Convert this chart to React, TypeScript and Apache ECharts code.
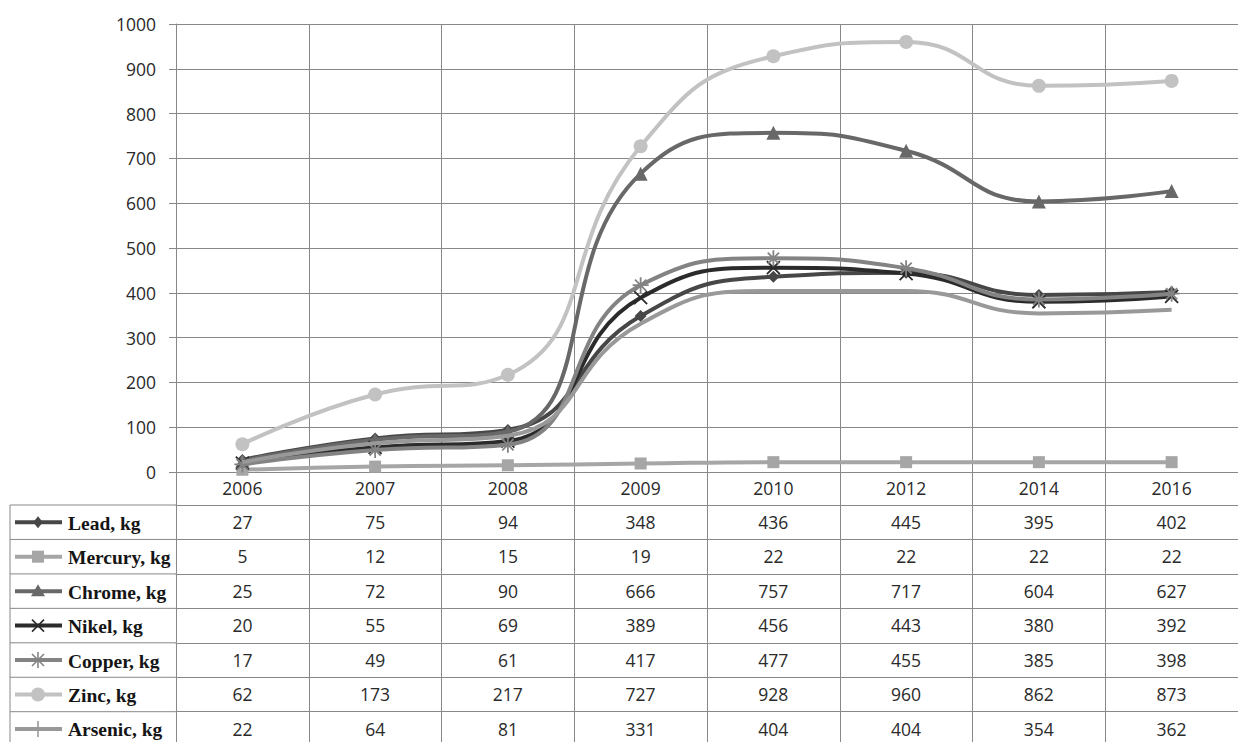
import React, { useEffect, useRef } from "react";
import * as echarts from "echarts";

const years = ["2006", "2007", "2008", "2009", "2010", "2012", "2014", "2016"];
const yTicks = { min: 0, max: 1000, interval: 100 };

const lead = [27, 75, 94, 348, 436, 445, 395, 402];
const mercury = [5, 12, 15, 19, 22, 22, 22, 22];
const chrome = [25, 72, 90, 666, 757, 717, 604, 627];
const nikel = [20, 55, 69, 389, 456, 443, 380, 392];
const copper = [17, 49, 61, 417, 477, 455, 385, 398];
const zinc = [62, 173, 217, 727, 928, 960, 862, 873];
const arsenic = [22, 64, 81, 331, 404, 404, 354, 362];

const seriesNames = ["Lead, kg", "Mercury, kg", "Chrome, kg", "Nikel, kg", "Copper, kg", "Zinc, kg", "Arsenic, kg"];
const seriesData = [lead, mercury, chrome, nikel, copper, zinc, arsenic];
const seriesColors = ["#474747", "#a6a6a6", "#686868", "#2b2b2b", "#838383", "#c2c2c2", "#999999"];
const seriesSymbols = [
  "diamond",
  "rect",
  "triangle",
  "path://M0,0L10,10M10,0L0,10",
  "path://M5,0L5,10M0,5L10,5M1.5,1.5L8.5,8.5M8.5,1.5L1.5,8.5",
  "circle",
  "path://M5,0L5,10",
];
const symbolKinds = ["diamond", "rect", "triangle", "x", "star", "circle", "plus"];
const symbolSizes = [12, 12, 14, 13, 16, 14, 16];
const strokeSymbols = [false, false, false, true, true, false, true];

const GRID_LEFT = 176;
const GRID_TOP = 24;
const GRID_BOTTOM_Y = 472;
const H = 742;
const HEADER_H = 33;
const ROW_H = 34.45;
const GRID_COLOR = "#888888";
const TEXT_COLOR = "#2a2a2a";
const NUM_FONT = "'Open Sans', 'Liberation Sans', sans-serif";
const NUM_SIZE = 17.5;

function legendIcon(kind: string, cx: number, cy: number, color: string): any[] {
  const els: any[] = [
    { type: "line", shape: { x1: 15, y1: cy, x2: 62, y2: cy }, style: { stroke: color, lineWidth: 4 } },
  ];
  const s = 6;
  const stroke = { stroke: color, lineWidth: 1.6 };
  if (kind === "diamond") {
    els.push({ type: "polygon", shape: { points: [[cx, cy - s], [cx + s * 0.8, cy], [cx, cy + s], [cx - s * 0.8, cy]] }, style: { fill: color } });
  } else if (kind === "rect") {
    els.push({ type: "rect", shape: { x: cx - 6, y: cy - 6, width: 12, height: 12 }, style: { fill: color } });
  } else if (kind === "triangle") {
    els.push({ type: "polygon", shape: { points: [[cx, cy - 7], [cx + 7, cy + 5], [cx - 7, cy + 5]] }, style: { fill: color } });
  } else if (kind === "x") {
    els.push({ type: "line", shape: { x1: cx - 6, y1: cy - 6, x2: cx + 6, y2: cy + 6 }, style: stroke });
    els.push({ type: "line", shape: { x1: cx + 6, y1: cy - 6, x2: cx - 6, y2: cy + 6 }, style: stroke });
  } else if (kind === "star") {
    els.push({ type: "line", shape: { x1: cx - 6, y1: cy - 6, x2: cx + 6, y2: cy + 6 }, style: stroke });
    els.push({ type: "line", shape: { x1: cx + 6, y1: cy - 6, x2: cx - 6, y2: cy + 6 }, style: stroke });
    els.push({ type: "line", shape: { x1: cx, y1: cy - 8, x2: cx, y2: cy + 8 }, style: stroke });
  } else if (kind === "circle") {
    els.push({ type: "circle", shape: { cx, cy, r: 7 }, style: { fill: color } });
  } else if (kind === "plus") {
    els.push({ type: "line", shape: { x1: cx, y1: cy - 8, x2: cx, y2: cy + 8 }, style: stroke });
  }
  return els;
}

export default function App() {
  const ref = useRef<HTMLDivElement>(null);
  useEffect(() => {
    if (!ref.current) return;
    const chart = echarts.init(ref.current, undefined, { renderer: "svg" });

    const labelStyle = { color: TEXT_COLOR, fontSize: NUM_SIZE, fontFamily: NUM_FONT, margin: 7 };
    const xAxes: any[] = [
      {
        type: "category",
        data: years,
        gridIndex: 0,
        position: "bottom",
        boundaryGap: true,
        axisLine: { show: true, lineStyle: { color: GRID_COLOR, width: 1 } },
        axisTick: { show: true, length: HEADER_H, lineStyle: { color: GRID_COLOR } },
        axisLabel: labelStyle,
        splitLine: { show: true, lineStyle: { color: GRID_COLOR, width: 1 } },
      },
    ];
    seriesData.forEach((d, i) => {
      xAxes.push({
        type: "category",
        data: d.map(String),
        gridIndex: 0,
        position: "bottom",
        offset: HEADER_H + i * ROW_H,
        boundaryGap: true,
        axisLine: { show: true, lineStyle: { color: GRID_COLOR, width: 1 } },
        axisTick: { show: true, length: ROW_H, lineStyle: { color: GRID_COLOR } },
        axisLabel: { ...labelStyle, margin: 8 },
        splitLine: { show: false },
      });
    });

    const graphics: any[] = [];
    for (let k = 0; k <= seriesData.length; k++) {
      const y = GRID_BOTTOM_Y + HEADER_H + k * ROW_H;
      graphics.push({
        type: "line",
        shape: { x1: 10, y1: y, x2: GRID_LEFT, y2: y },
        style: { stroke: GRID_COLOR, lineWidth: 1 },
      });
    }
    graphics.push({
      type: "line",
      shape: { x1: 10, y1: GRID_BOTTOM_Y + HEADER_H, x2: 10, y2: H },
      style: { stroke: GRID_COLOR, lineWidth: 1 },
    });
    seriesNames.forEach((name, i) => {
      const cy = GRID_BOTTOM_Y + HEADER_H + (i + 0.5) * ROW_H;
      graphics.push(...legendIcon(symbolKinds[i], 38, cy, seriesColors[i]));
      graphics.push({
        type: "text",
        x: 68,
        y: cy + 1,
        style: {
          text: name,
          fill: "#151515",
          font: "bold 19.5px 'Liberation Serif', 'DejaVu Serif', serif",
          verticalAlign: "middle",
          align: "left",
        },
      });
    });

    chart.setOption({
      animation: false,
      backgroundColor: "#ffffff",
      grid: { left: GRID_LEFT, top: GRID_TOP, right: -7, bottom: H - GRID_BOTTOM_Y, containLabel: false },
      xAxis: xAxes,
      yAxis: {
        type: "value",
        min: yTicks.min,
        max: yTicks.max,
        interval: yTicks.interval,
        axisLine: { show: true, lineStyle: { color: GRID_COLOR } },
        axisTick: { show: true, length: 7, lineStyle: { color: GRID_COLOR } },
        axisLabel: {
          color: TEXT_COLOR,
          fontSize: NUM_SIZE,
          fontFamily: NUM_FONT,
          margin: 20,
          formatter: (v: number) => String(v),
        },
        splitLine: { show: true, lineStyle: { color: GRID_COLOR, width: 1 } },
      },
      graphic: graphics,
      series: seriesData.map((d, i) => ({
        name: seriesNames[i],
        type: "line",
        xAxisIndex: 0,
        yAxisIndex: 0,
        data: d,
        smooth: 0.5,
        symbol: seriesSymbols[i],
        symbolSize: symbolSizes[i],
        showAllSymbol: true,
        lineStyle: { color: seriesColors[i], width: 4 },
        itemStyle: strokeSymbols[i]
          ? { color: seriesColors[i], borderColor: seriesColors[i], borderWidth: 1.8 }
          : { color: seriesColors[i], borderColor: seriesColors[i], borderWidth: 0 },
        z: 2 + i,
      })),
    });
    return () => chart.dispose();
  }, []);
  return (
    <div
      ref={ref}
      style={{ position: "fixed", left: 0, top: 0, width: 1238, height: 742, background: "#fff" }}
    />
  );
}
